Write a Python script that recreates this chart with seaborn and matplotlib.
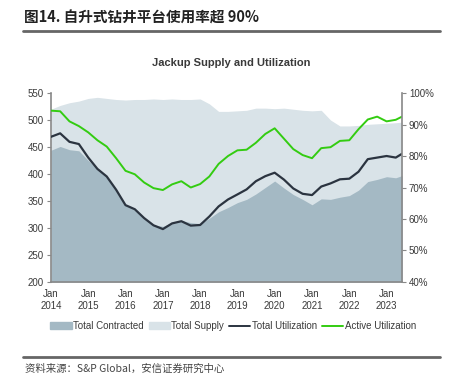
import pandas as pd
import matplotlib.pyplot as plt
from matplotlib.patches import Patch
from matplotlib.lines import Line2D
import seaborn as sns

# Data (quarterly + last point)
dates = list(pd.date_range("2014-01-01", "2023-04-01", freq="QS")) + [pd.Timestamp("2023-06-01")]

total_contracted = [444, 451, 445, 443, 425, 410, 397, 372, 343, 333, 318, 306,
                    303, 310, 314, 310, 308, 318, 330, 338, 347, 353, 363, 375,
                    387, 374, 362, 353, 343, 354, 353, 357, 360, 370, 386, 390,
                    395, 393, 397]
total_supply = [520, 527, 532, 535, 540, 542, 540, 538, 537, 538, 538, 539,
                538, 539, 538, 538, 539, 530, 516, 516, 517, 518, 522, 522,
                521, 522, 520, 518, 517, 518, 500, 489, 489, 490, 492, 493,
                494, 495, 496]
total_util = [86.1, 87.2, 84.5, 83.8, 79.5, 75.9, 73.5, 69.3, 64.4, 63.1, 60.3, 58.0,
              56.8, 58.6, 59.3, 57.9, 58.1, 60.8, 64.0, 66.2, 67.8, 69.4, 72.0, 73.6,
              74.7, 72.5, 69.7, 68.0, 67.6, 70.3, 71.3, 72.6, 72.8, 75.0, 79.0, 79.5,
              80.0, 79.5, 80.7]
active_util = [94.4, 94.2, 91.0, 89.5, 87.5, 85.0, 83.0, 79.3, 75.3, 74.2, 71.6, 69.8,
               69.2, 71.0, 72.0, 70.0, 71.1, 73.5, 77.5, 80.0, 81.8, 82.0, 84.2, 87.0,
               88.8, 85.5, 82.2, 80.3, 79.3, 82.5, 82.8, 84.8, 85.0, 88.5, 91.6, 92.5,
               91.0, 91.5, 92.5]

df = pd.DataFrame({"date": dates, "contracted": total_contracted, "supply": total_supply,
                   "total_util": total_util, "active_util": active_util})

sns.set_style("white")
plt.rcParams["font.family"] = ["Liberation Sans", "Noto Sans CJK SC", "DejaVu Sans"]

c_contr = "#a4b9c4"
c_supply = "#d9e3e8"
c_total = "#2b3440"
c_active = "#33cc11"
c_text = "#3a3a3a"

fig = plt.figure(figsize=(4.5, 3.82), dpi=100)
ax = fig.add_axes([0.1133, 0.2618, 0.78, 0.4947])
ax2 = ax.twinx()

# stacked look: supply behind, contracted in front
ax.fill_between(df["date"], 200, df["supply"], color=c_supply, lw=0)
ax.fill_between(df["date"], 200, df["contracted"], color=c_contr, lw=0)

sns.lineplot(data=df, x="date", y="total_util", ax=ax2, color=c_total, lw=1.6)
sns.lineplot(data=df, x="date", y="active_util", ax=ax2, color=c_active, lw=1.4)

ax.set_ylim(200, 550)
ax.set_yticks(range(200, 551, 50))
ax2.set_ylim(40, 100)
ax2.set_yticks(range(40, 101, 10))
ax2.set_yticklabels([f"{v}%" for v in range(40, 101, 10)])
ax.set_xlim(pd.Timestamp("2014-01-01"), pd.Timestamp("2023-06-01"))

years = list(range(2014, 2024))
ax.set_xticks([pd.Timestamp(f"{y}-01-01") for y in years])
ax.set_xticklabels([f"Jan\n{y}" for y in years])

for a in (ax, ax2):
    a.set_xlabel("")
    a.set_ylabel("")
    a.spines["top"].set_visible(False)
    for s in ("left", "right", "bottom"):
        a.spines[s].set_color("#888888")
        a.spines[s].set_linewidth(1.2)
    a.tick_params(axis="both", labelsize=7, colors=c_text, length=3, width=0.8,
                  color="#888888", pad=2)
ax.spines["right"].set_visible(False)
ax2.spines["left"].set_visible(False)
ax2.spines["bottom"].set_visible(False)

fig.text(0.513, 0.835, "Jackup Supply and Utilization", ha="center", va="center",
         fontsize=8, fontweight="bold", color=c_text)

handles = [Patch(color=c_contr), Patch(color=c_supply),
           Line2D([], [], color=c_total, lw=1.4), Line2D([], [], color=c_active, lw=1.4)]
labels = ["Total Contracted", "Total Supply", "Total Utilization", "Active Utilization"]
fig.legend(handles, labels, loc="center", bbox_to_anchor=(0.518, 0.147), ncol=4,
           frameon=False, fontsize=7, handlelength=2.2, handleheight=0.6,
           columnspacing=0.5, handletextpad=0.15, labelcolor=c_text)

# page header / footer
fig.text(0.053, 0.953, "图14. 自升式钻井平台使用率超 90%", ha="left", va="center",
         fontsize=10.5, fontweight="bold", color="#222222",
         family=["Noto Sans CJK SC", "DejaVu Sans"])
fig.add_artist(Line2D([0.051, 0.978], [0.918, 0.918], color="#666666", lw=2))
fig.add_artist(Line2D([0.051, 0.978], [0.066, 0.066], color="#666666", lw=2))
fig.text(0.055, 0.036, "资料来源：S&P Global，安信证券研究中心", ha="left", va="center",
         fontsize=7.5, style="italic", color="#444444",
         family=["Noto Sans CJK SC", "DejaVu Sans"])

fig.savefig("out.png", dpi=100)
